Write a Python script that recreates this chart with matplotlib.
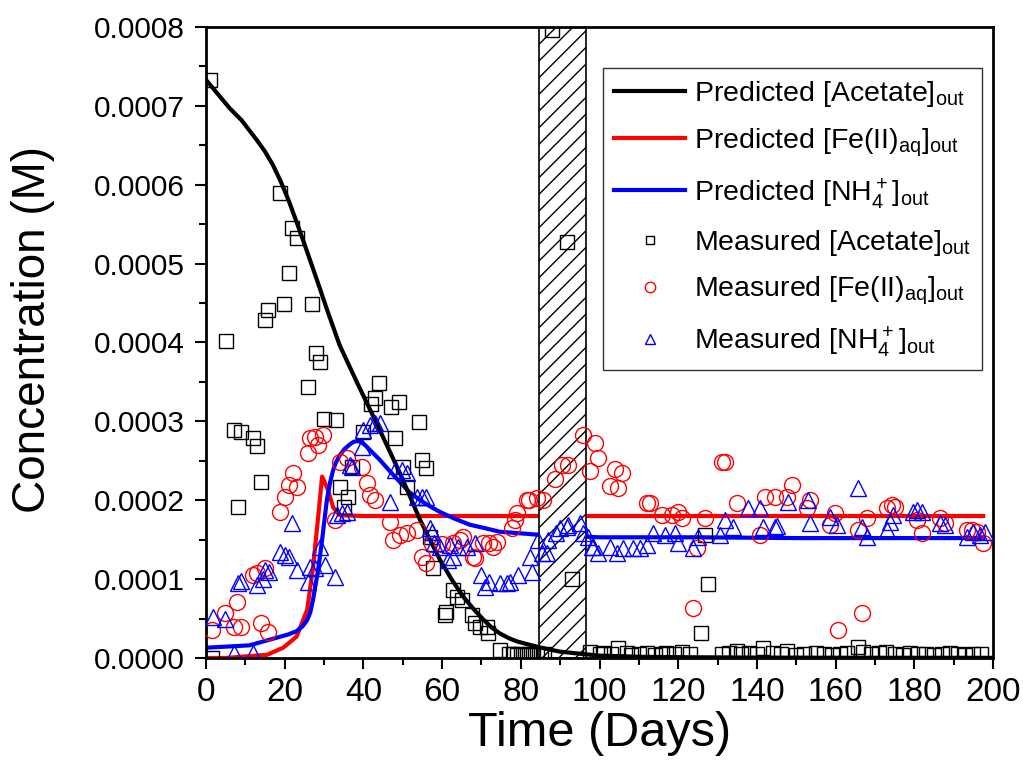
import matplotlib
matplotlib.use("Agg")
import matplotlib.pyplot as plt
from matplotlib.ticker import MultipleLocator, FormatStrFormatter

# measured acetate (day, conc x1e-4 M)
acetate_days = [1, 1.5, 5, 7, 8, 9, 12, 13, 14, 15, 15.8, 18.8, 19.8, 21, 21.9, 23, 25.9, 26.9, 27.9, 29,
                30, 33, 34, 35, 36, 37, 40, 42, 43, 44, 47, 48, 49, 50, 51, 54, 55, 56, 57, 57.7,
                60.7, 61, 62.8, 63.8, 65, 67.6, 68.4, 69.6, 71.4, 71.7, 74.7, 77, 78, 79, 80, 81, 82, 83, 84, 85,
                86, 88, 91.7, 93, 97.6, 100, 101, 103, 104.7, 107, 108, 110, 112, 114, 116, 117, 119, 121, 123,
                125.8, 126.8, 127.6, 131, 133, 135, 136, 138, 140, 141.6, 144, 146, 147.6, 150, 152, 155, 157,
                159, 161, 163, 165.7, 167, 169, 171, 172.8, 175, 177, 179, 181, 183, 185, 187, 189, 191, 193,
                195, 197]
acetate_vals = [7.33, 0.0, 4.02, 2.89, 1.92, 2.87, 2.79, 2.69, 2.23, 4.28, 4.41, 5.89, 4.49, 4.88, 5.45, 5.32,
                3.43, 4.49, 3.87, 3.75, 3.03, 3.02, 2.17, 1.91, 2.04, 2.42, 2.86, 3.22, 3.30, 3.49, 3.18, 2.79,
                3.24, 2.42, 2.17, 2.99, 2.51, 2.41, 1.53, 1.14, 0.54, 0.58, 0.86, 0.77, 0.74, 0.54, 0.44, 0.39,
                0.39, 0.32, 0.10, 0.05, 0.05, 0.04, 0.05, 0.04, 0.05, 0.04, 0.05, 0.04, 0.05, 7.96, 5.28, 1.00,
                0.08, 0.05, 0.06, 0.05, 0.13, 0.06, 0.04, 0.05, 0.06, 0.04, 0.05, 0.06, 0.05, 0.07, 0.05, 0.32,
                1.56, 0.94, 0.05, 0.06, 0.09, 0.05, 0.06, 0.05, 0.13, 0.06, 0.05, 0.09, 0.04, 0.05, 0.06, 0.05,
                0.04, 0.05, 0.06, 0.14, 0.07, 0.05, 0.06, 0.08, 0.05, 0.04, 0.06, 0.05, 0.05, 0.04, 0.05, 0.06,
                0.05, 0.04, 0.05, 0.05]

# measured Fe(II)aq
fe_days = [1.5, 4.8, 7, 7.8, 9, 12, 13, 14, 15, 15.8, 18.8, 20, 21, 22, 23, 26, 26.4, 27.7, 28.5, 29.7,
           32.8, 34, 35.8, 39.6, 40.9, 41.7, 43, 46.8, 47.6, 49.3, 51, 53.6, 55, 56, 57.5, 60, 62.8, 64.5,
           65.3, 67.8, 68.4, 70.4, 72, 73, 74, 77.8, 78.5, 79, 81.6, 82, 84, 85.6, 88.7, 90.5, 92, 95.8,
           97.6, 98.8, 99.6, 102.7, 104, 104.7, 105.7, 112, 112.8, 116, 118.4, 120, 121, 123.8, 124.8,
           126.8, 131, 132, 135, 140.8, 142, 144.6, 147.6, 149, 152.7, 153.5, 158.6, 159.8, 160.6, 165.7,
           166.7, 168, 173, 174.3, 175, 180.7, 182, 186.5, 187.8, 193.4, 194.7, 196, 197.5]
fe_vals = [0.36, 0.57, 0.39, 0.71, 0.39, 1.05, 1.08, 0.44, 1.14, 0.33, 1.85, 2.04, 2.19, 2.34, 2.17, 2.60,
           2.79, 2.80, 2.70, 2.83, 1.75, 2.48, 2.53, 2.42, 2.22, 2.07, 2.00, 1.72, 1.50, 1.56, 1.58, 1.62,
           1.28, 1.20, 1.45, 1.44, 1.46, 1.50, 1.53, 1.28, 1.27, 1.46, 1.46, 1.41, 1.47, 1.65, 1.75, 1.84,
           2.00, 2.00, 2.03, 2.00, 2.27, 2.45, 2.45, 2.83, 2.37, 2.72, 2.53, 2.18, 2.40, 2.15, 2.34, 1.96,
           1.96, 1.81, 1.81, 1.85, 1.78, 0.63, 1.40, 1.77, 2.48, 2.48, 1.96, 1.56, 2.04, 2.04, 2.04, 2.19,
           1.90, 2.00, 1.69, 1.84, 0.35, 1.62, 0.57, 1.77, 1.90, 1.94, 1.92, 1.75, 1.58, 1.77, 1.71, 1.62,
           1.62, 1.60, 1.46]

# measured NH4+
nh4_days = [1.8, 4.8, 7, 12, 8, 9, 13, 14.5, 15, 16, 18.8, 20, 21, 21.9, 23, 26, 26.4, 27.7, 29, 30.2,
            32.8, 33.2, 34.5, 35.8, 36.6, 37, 39.6, 40, 41.7, 43, 44.2, 46.8, 48, 49.8, 51, 53.6, 55, 56,
            57, 57.5, 58, 59.5, 61.6, 62, 62.8, 64, 66.3, 68.4, 70, 71, 72, 74.7, 76.5, 77.3, 79.3, 82.3,
            82.8, 84.4, 85.4, 86.6, 87, 89, 90, 91.7, 92, 95, 95.8, 97, 98, 98.4, 99.6, 102.7, 104.4, 106,
            108.5, 110.3, 112, 113.6, 116.6, 119.2, 120, 123.8, 125, 130.6, 132, 134, 137.7, 140.8, 141.6,
            144.6, 145, 148, 153, 153.5, 158.6, 160.3, 165.7, 166.7, 168, 173, 173.8, 174.6, 179.7, 180.7,
            182, 186.5, 187.8, 193.4, 195, 196.7, 198]
nh4_vals = [0.52, 0.50, 0.06, 0.06, 0.95, 0.97, 0.93, 1.00, 1.12, 1.09, 1.34, 1.30, 1.28, 1.71, 1.12, 0.96,
            1.15, 1.14, 1.41, 1.18, 1.03, 1.81, 1.84, 1.85, 2.45, 2.42, 2.68, 2.89, 2.95, 2.98, 2.98, 1.98,
            2.38, 2.38, 2.34, 2.04, 2.04, 2.04, 1.65, 1.60, 1.46, 1.41, 1.24, 1.43, 1.28, 1.41, 1.41, 1.46,
            1.05, 0.90, 0.96, 0.95, 0.95, 0.96, 1.05, 1.28, 1.09, 1.50, 1.33, 1.33, 1.50, 1.58, 1.65, 1.66,
            1.69, 1.71, 1.58, 1.53, 1.41, 1.41, 1.33, 1.41, 1.33, 1.39, 1.39, 1.39, 1.43, 1.58, 1.56, 1.58,
            1.46, 1.39, 1.53, 1.56, 1.75, 1.66, 1.90, 1.90, 1.66, 1.66, 1.67, 1.98, 2.00, 1.71, 1.79, 1.69,
            2.15, 1.66, 1.53, 1.62, 1.72, 1.81, 1.85, 1.88, 1.85, 1.71, 1.69, 1.53, 1.60, 1.56, 1.60]

# predicted curves
acetate_pred_t = [0, 3, 6, 9, 11, 13, 15, 17, 19, 21, 23, 25, 28, 31, 34, 38.3, 43.4, 49.3, 54.4,
                  59.5, 62.5, 65.3, 68, 70.4, 72.5, 74.7, 77, 79, 82, 84.4, 87, 90, 95.8, 100, 110, 120,
                  140, 160, 200]
acetate_pred = [7.33, 7.15, 6.97, 6.82, 6.69, 6.56, 6.42, 6.25, 6.04, 5.80, 5.53, 5.25, 4.82, 4.38, 3.96,
                3.50, 2.97, 2.34, 1.75, 1.24, 0.99, 0.78, 0.62, 0.49, 0.39, 0.31, 0.25, 0.21, 0.17, 0.14,
                0.11, 0.08, 0.05, 0.03, 0.015, 0.01, 0.005, 0.003, 0.002]
fe_pred_t = [0, 5, 10, 15.5, 19.6, 23, 25.7, 27.2, 28.5, 29.5, 31, 32.3, 34, 40, 60, 100, 150, 197.5]
fe_pred = [0.0, 0.0, 0.02, 0.04, 0.13, 0.27, 0.61, 1.15, 1.79, 2.30, 2.13, 1.91, 1.81, 1.80, 1.80, 1.80,
           1.80, 1.80]
nh4_pred_t = [0, 11, 17.5, 21, 23, 24.5, 25.7, 26.5, 27.2, 28.5, 29.5, 30.7, 31.5, 32.3, 33, 34, 35.2,
              36.6, 37.5, 38.4, 39.4, 40.4, 42, 44.2, 46.5, 49.3, 51.5, 54.4, 57, 59.5, 63, 67, 70.5, 74.7,
              80, 85, 100, 125, 150, 197.5]
nh4_pred = [0.13, 0.16, 0.25, 0.30, 0.34, 0.40, 0.48, 0.58, 0.74, 1.12, 1.50, 2.00, 2.22, 2.38, 2.48,
            2.57, 2.65, 2.71, 2.74, 2.75, 2.74, 2.70, 2.62, 2.51, 2.38, 2.23, 2.11, 2.00, 1.92, 1.85, 1.77,
            1.69, 1.65, 1.60, 1.58, 1.56, 1.53, 1.53, 1.52, 1.52]

gap_start, gap_end = 84.5, 96.5
scale = 1e-4

plt.rcParams["font.family"] = ["Liberation Sans", "DejaVu Sans"]
plt.rcParams["mathtext.default"] = "regular"
plt.rcParams["hatch.linewidth"] = 1.0


def sc(vals):
    return [v * scale for v in vals]


fig = plt.figure(figsize=(10.23, 7.65), dpi=100)
ax = fig.add_axes([0.2014, 0.1399, 0.7693, 0.8248])

ax.plot(acetate_pred_t, sc(acetate_pred), color="black", lw=3, zorder=3,
        label="Predicted [Acetate]$_{out}$")
ax.plot(fe_pred_t, sc(fe_pred), color="red", lw=3, zorder=2,
        label="Predicted [Fe(II)$_{aq}$]$_{out}$")
ax.plot(nh4_pred_t, sc(nh4_pred), color="blue", lw=3, zorder=2,
        label="Predicted [NH$_4^+$]$_{out}$")
ax.axvspan(gap_start, gap_end, facecolor="white", edgecolor="black", hatch="//", lw=1.2, zorder=2.5)
ax.plot(acetate_days, sc(acetate_vals), ls="none", marker="s", ms=9.5, mfc="none", mec="black", mew=1,
        zorder=4, label="Measured [Acetate]$_{out}$")
ax.plot(fe_days, sc(fe_vals), ls="none", marker="o", ms=11.5, mfc="none", mec="red", mew=1,
        zorder=4, label="Measured [Fe(II)$_{aq}$]$_{out}$")
ax.plot(nh4_days, sc(nh4_vals), ls="none", marker="^", ms=12, mfc="none", mec="blue", mew=1,
        zorder=4, label="Measured [NH$_4^+$]$_{out}$")

ax.set_xlim(0, 200)
ax.set_ylim(0, 0.0008)
ax.xaxis.set_major_locator(MultipleLocator(20))
ax.xaxis.set_minor_locator(MultipleLocator(10))
ax.yaxis.set_major_locator(MultipleLocator(0.0001))
ax.yaxis.set_minor_locator(MultipleLocator(0.00005))
ax.yaxis.set_major_formatter(FormatStrFormatter("%.4f"))
ax.tick_params(which="both", direction="out", width=1.5, top=False, right=False)
ax.tick_params(which="major", length=8)
ax.tick_params(which="minor", length=5)
ax.tick_params(axis="y", labelsize=21.5, pad=7)
ax.tick_params(axis="x", labelsize=24, pad=6)
for s in ax.spines.values():
    s.set_linewidth(2)

ax.set_xlabel("Time (Days)", fontsize=35, labelpad=2)
ax.set_ylabel("Concentration (M)", fontsize=33)
ax.yaxis.set_label_coords(-0.192, 0.52)

leg = ax.legend(loc="upper right", bbox_to_anchor=(0.986, 0.935), borderaxespad=0, fontsize=20.5,
                frameon=True, fancybox=False, edgecolor="black", handlelength=2.5, handletextpad=0.3,
                markerscale=0.65, labelspacing=0.6, borderpad=0.4)
leg.get_frame().set_linewidth(1)

fig.savefig("out.png", dpi=100)
